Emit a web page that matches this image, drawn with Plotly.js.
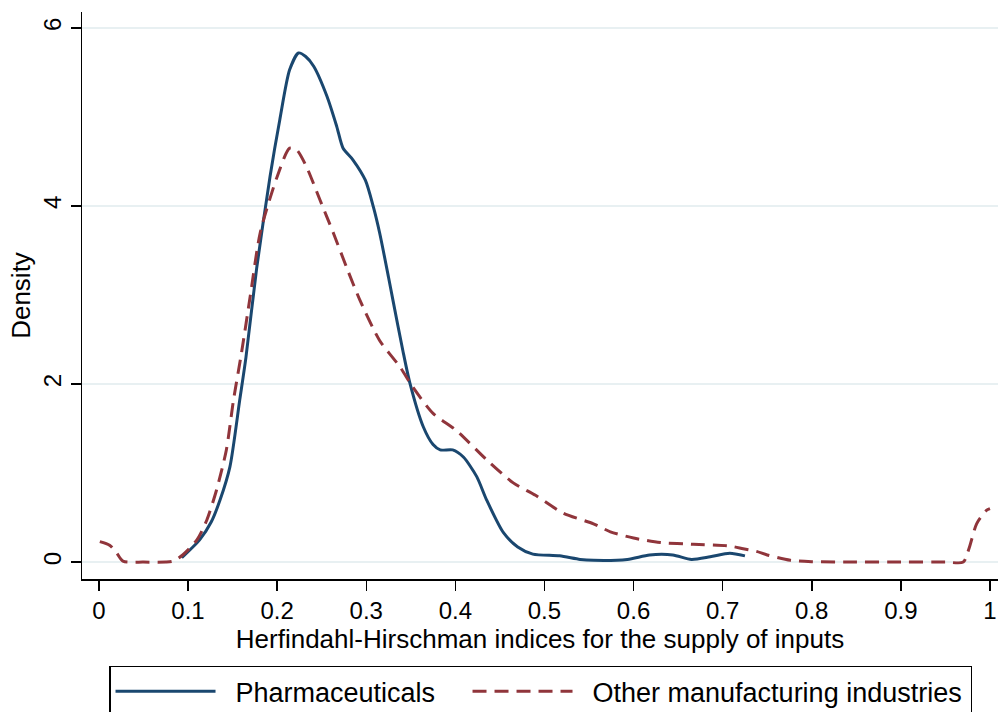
<!DOCTYPE html>
<html>
<head>
<meta charset="utf-8">
<script src="https://cdn.plot.ly/plotly-3.0.1.min.js"></script>
<style>html,body{margin:0;padding:0;background:#fff;}#chart{width:998px;height:712px;}</style>
</head>
<body>
<div id="chart"></div>
<script>
// Kernel density estimates
var seriesNames = ["Pharmaceuticals", "Other manufacturing industries"];

var xPharma = [0.093,0.113,0.126,0.136,0.147,0.158,0.165,0.177,0.192,0.203,0.214,0.224,0.232,0.241,0.256,0.267,0.274,0.285,0.299,0.308,0.315,0.325,0.330,0.341,0.349,0.364,0.375,0.383,0.397,0.409,0.424,0.435,0.454,0.470,0.487,0.517,0.540,0.555,0.593,0.618,0.644,0.665,0.686,0.708,0.725];
var yPharma = [0.05,0.25,0.45,0.70,1.07,1.82,2.30,3.30,4.33,4.97,5.53,5.72,5.68,5.57,5.23,4.89,4.65,4.52,4.29,3.99,3.70,3.20,2.94,2.38,2.01,1.52,1.32,1.26,1.26,1.18,0.96,0.70,0.33,0.17,0.09,0.07,0.03,0.02,0.03,0.08,0.08,0.03,0.06,0.10,0.07];

var xOther = [0.001,0.012,0.020,0.027,0.050,0.075,0.083,0.094,0.110,0.121,0.132,0.143,0.151,0.160,0.170,0.181,0.200,0.214,0.222,0.233,0.248,0.263,0.278,0.293,0.315,0.338,0.352,0.375,0.401,0.435,0.465,0.490,0.521,0.555,0.574,0.600,0.630,0.667,0.708,0.723,0.738,0.750,0.776,0.800,0.850,0.900,0.950,0.970,0.977,0.985,0.996,1.000];
var yOther = [0.23,0.19,0.10,0.01,0.00,0.00,0.01,0.08,0.25,0.47,0.81,1.26,1.82,2.35,3.00,3.70,4.33,4.65,4.63,4.44,4.07,3.70,3.31,2.94,2.49,2.19,1.97,1.67,1.48,1.15,0.89,0.75,0.55,0.43,0.34,0.27,0.22,0.20,0.18,0.15,0.12,0.08,0.02,0.005,0.00,0.00,0.00,0.00,0.17,0.43,0.58,0.60];

var xTickVals = [0,0.1,0.2,0.3,0.4,0.5,0.6,0.7,0.8,0.9,1];
var xTickText = ["0","0.1","0.2","0.3","0.4","0.5","0.6","0.7","0.8","0.9","1"];
var yTickVals = [0,2,4,6];
var yTickText = ["0","2","4","6"];

var xTitle = "Herfindahl-Hirschman indices for the supply of inputs";
var yTitle = "Density";

var FONT = "Liberation Sans, Arial, sans-serif";
var PAD = "\u00a0\u00a0";

var traces = [
  {x: xPharma, y: yPharma, name: PAD + seriesNames[0], type: "scatter", mode: "lines",
   legendwidth: 242,
   line: {color: "#1a476f", width: 3, shape: "spline", smoothing: 0.7}},
  {x: xOther, y: yOther, name: PAD + seriesNames[1], type: "scatter", mode: "lines",
   legendwidth: 388,
   line: {color: "#90353b", width: 3, dash: "14px,8px", shape: "spline", smoothing: 0.7}}
];

var layout = {
  width: 998, height: 712,
  margin: {l: 82, r: 0, t: 12, b: 133, autoexpand: false},
  paper_bgcolor: "#ffffff", plot_bgcolor: "#ffffff",
  font: {family: FONT, color: "#000000", size: 24},
  showlegend: true,
  xaxis: {
    range: [-0.019, 1.009], tickmode: "array", tickvals: xTickVals, ticktext: xTickText,
    ticks: "outside", ticklen: 10, tickwidth: 1.5, tickcolor: "#000",
    showline: true, linecolor: "#000", linewidth: 1.5, showgrid: false, zeroline: false,
    tickfont: {family: FONT, size: 24, color: "#000"},
    title: {text: xTitle, font: {family: FONT, size: 26, color: "#000"}, standoff: 1},
    automargin: false
  },
  yaxis: {
    range: [-0.19, 6.18], tickmode: "array", tickvals: yTickVals, ticktext: yTickText,
    tickangle: -90,
    ticks: "outside", ticklen: 10, tickwidth: 1.5, tickcolor: "#000",
    showline: true, linecolor: "#000", linewidth: 1.5,
    showgrid: true, gridcolor: "#e8f0f2", gridwidth: 1.5, zeroline: false,
    tickfont: {family: FONT, size: 24, color: "#000"},
    title: {text: yTitle, font: {family: FONT, size: 26, color: "#000"}, standoff: 1},
    automargin: false
  },
  legend: {
    orientation: "h", x: 0.0295, xanchor: "left", y: -0.153, yanchor: "top",
    bordercolor: "#000", borderwidth: 1.5, bgcolor: "#fff",
    font: {family: FONT, size: 27, color: "#000"},
    itemwidth: 100, tracegroupgap: 0
  }
};

Plotly.newPlot("chart", traces, layout, {displayModeBar: false, staticPlot: true});
</script>
</body>
</html>
